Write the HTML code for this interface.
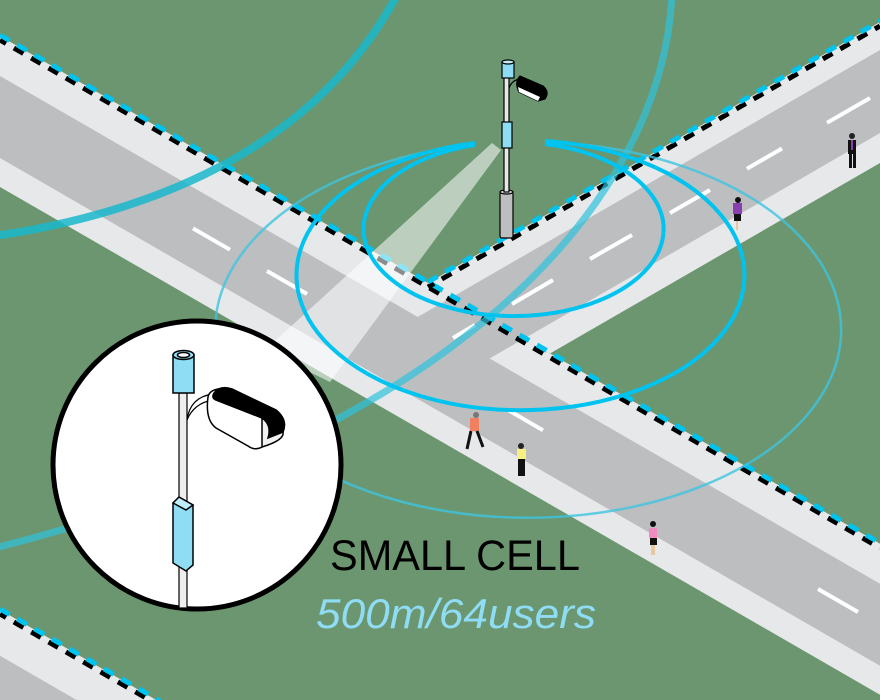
<!DOCTYPE html>
<html><head><meta charset="utf-8"><style>
html,body{margin:0;padding:0;background:#6b966f;width:880px;height:700px;overflow:hidden;}
svg{display:block}
</style></head><body>
<svg width="880" height="700" viewBox="0 0 880 700" xmlns="http://www.w3.org/2000/svg">
<rect width="880" height="700" fill="#6b966f"/>
<polygon points="-10,604 300,783 300,840 -10,660" fill="#e7e8ea"/>
<polygon points="-10,650 300,829 300,900 -10,720" fill="#bdbec0"/>
<polygon points="-10,30.2 890,549.5 890,700.5 -10,181.2" fill="#e7e8ea"/>
<polygon points="-10,70.2 890,589.5 890,671.5 -10,152.2" fill="#bdbec0"/>
<polygon points="428,283 900,10.5 900,151.5 550,353.5" fill="#e7e8ea"/>
<polygon points="417.7,317 900,38.5 900,121.5 489.6,358.5" fill="#bdbec0"/>
<g stroke="#fff" stroke-width="4">
<line x1="193" y1="228.4" x2="230" y2="249.7"/>
<line x1="267" y1="271" x2="307" y2="294"/>
<line x1="508" y1="410" x2="543" y2="430.3"/>
<line x1="818" y1="589" x2="858" y2="612"/>
<line x1="827" y1="122.8" x2="870" y2="98"/>
<line x1="747" y1="168.7" x2="782" y2="148.5"/>
<line x1="670" y1="213" x2="710" y2="190"/>
<line x1="590" y1="259" x2="632" y2="235"/>
<line x1="512" y1="304" x2="553" y2="280"/>
<line x1="453" y1="338" x2="475" y2="325"/>
</g>
<g stroke-width="5">
<line x1="0" y1="40" x2="880" y2="548" stroke="#000" stroke-dasharray="11 9" stroke-dashoffset="4"/>
<line x1="0" y1="35" x2="880" y2="543" stroke="#00c3ee" stroke-dasharray="11 9"/>
<line x1="428" y1="287" x2="880" y2="26" stroke="#000" stroke-dasharray="11 9" stroke-dashoffset="4"/>
<line x1="428" y1="282" x2="880" y2="21" stroke="#00c3ee" stroke-dasharray="11 9"/>
<line x1="0" y1="614" x2="160" y2="706" stroke="#000" stroke-dasharray="11 9" stroke-dashoffset="4"/>
<line x1="0" y1="609" x2="160" y2="701" stroke="#00c3ee" stroke-dasharray="11 9"/>
</g>
<path d="M397,-5 C330,120 200,205 -5,236" fill="none" stroke="#19b9cc" stroke-opacity="0.85" stroke-width="8"/>
<path d="M672,-5 C662,200 460,430 -5,548" fill="none" stroke="#2ec3dd" stroke-opacity="0.7" stroke-width="7"/>
<polygon points="492,143 501,150 330,382 265,350" fill="#ffffff" fill-opacity="0.55"/>
<path d="M470,145 A313,188 0 1 0 545,142" fill="none" stroke="#3ec4e0" stroke-opacity="0.8" stroke-width="2.5"/>
<path d="M475,143 A224,135 0 1 0 545,141" fill="none" stroke="#00c3f0" stroke-width="4"/>
<path d="M475,145 A150,87 0 1 0 545,144" fill="none" stroke="#00c3f0" stroke-width="4"/>
<g stroke="#000" stroke-width="1.2">
<rect x="500" y="192" width="13" height="46" fill="#bdbec0" rx="2"/>
<ellipse cx="506.5" cy="192" rx="6.5" ry="2" fill="#ddd"/>
<rect x="504" y="70" width="5" height="122" fill="#e8e8e8"/>
<rect x="502" y="62" width="12" height="16" fill="#8fdcf5"/>
<ellipse cx="508" cy="62" rx="6" ry="2" fill="#bfeefc"/>
<path d="M509,88 Q512,80 520,79" fill="none" stroke="#000"/>
<path d="M520,76 L543,86 Q550,92 545,99 L538,101 L519,92 Q514,82 520,76Z" fill="#000"/>
<path d="M519,92 L538,101 L540,97 L518,87Z" fill="#fff" stroke="none"/>
<rect x="502" y="122" width="10" height="26" fill="#8fdcf5"/>
</g>
<g>
<rect x="848" y="140" width="8" height="14" fill="#111"/><circle cx="852" cy="136" r="3" fill="#222"/><rect x="849" y="154" width="3" height="14" fill="#111"/><rect x="853" y="154" width="3" height="14" fill="#111"/><rect x="851" y="140" width="2" height="10" fill="#8a3fb0"/>
<rect x="733" y="203" width="9" height="11" fill="#8a3fb0"/><circle cx="738" cy="200" r="3" fill="#111"/><rect x="734" y="214" width="7" height="7" fill="#111"/><rect x="736" y="221" width="2" height="9" fill="#e8c8a0"/>
<rect x="470" y="418" width="9" height="13" fill="#f08060"/><circle cx="476" cy="415" r="3" fill="#777"/><path d="M471,431 L467,449 M477,431 L483,447" stroke="#111" stroke-width="3"/>
<rect x="517" y="449" width="9" height="10" fill="#f5f080"/><circle cx="521" cy="446" r="3" fill="#222"/><rect x="518" y="459" width="7" height="17" fill="#111"/>
<rect x="649" y="528" width="8" height="10" fill="#f08cc0"/><circle cx="653" cy="524" r="3" fill="#111"/><rect x="650" y="538" width="7" height="7" fill="#111"/><rect x="651" y="545" width="4" height="10" fill="#e8c8a0"/>
</g>
<circle cx="197" cy="465" r="144" fill="#fff" stroke="#000" stroke-width="5"/>
<g stroke="#000" stroke-width="1.5">
<rect x="179" y="393" width="8" height="215" fill="#eee" stroke-width="1.2"/>
<path d="M187,420 Q190,397 213,394" fill="none" stroke="#000" stroke-width="1.2"/>
<path d="M187,420 Q194,403 213,400" fill="none" stroke="#000" stroke-width="1.2"/>
<rect x="173" y="355" width="21" height="38" fill="#8fdcf5"/>
<ellipse cx="183.5" cy="355" rx="10.5" ry="4.5" fill="#8fdcf5"/>
<ellipse cx="183.5" cy="355" rx="6" ry="2.5" fill="#fff"/>
<path d="M208,397 Q210,387 230,389 L276,410 Q288,420 283,432 L262,447 Q255,451 248,446 L216,428 Q205,420 208,397Z" fill="#fff"/>
<path d="M214,393 Q220,385 232,389 L276,410 Q288,420 283,432 L268,438 Q272,425 262,418 L216,400 Q211,398 214,393Z" fill="#000"/>
<path d="M262,418 Q272,425 268,438 L283,432 Q285,440 262,447 Z" fill="#f2f2f2"/>
<polygon points="173,503 179,497 193,505 193,565 186,571 173,563" fill="#8fdcf5"/>
<polygon points="173,503 179,497 193,505 186,510" fill="#bfeefc"/>
</g>
<text x="330" y="570" font-family="Liberation Sans, sans-serif" font-size="43" fill="#000" textLength="250" lengthAdjust="spacingAndGlyphs">SMALL CELL</text>
<text x="316" y="628" font-family="Liberation Sans, sans-serif" font-size="42" font-style="italic" fill="#8fdcf5" textLength="280" lengthAdjust="spacingAndGlyphs">500m/64users</text>
</svg>
</body></html>
